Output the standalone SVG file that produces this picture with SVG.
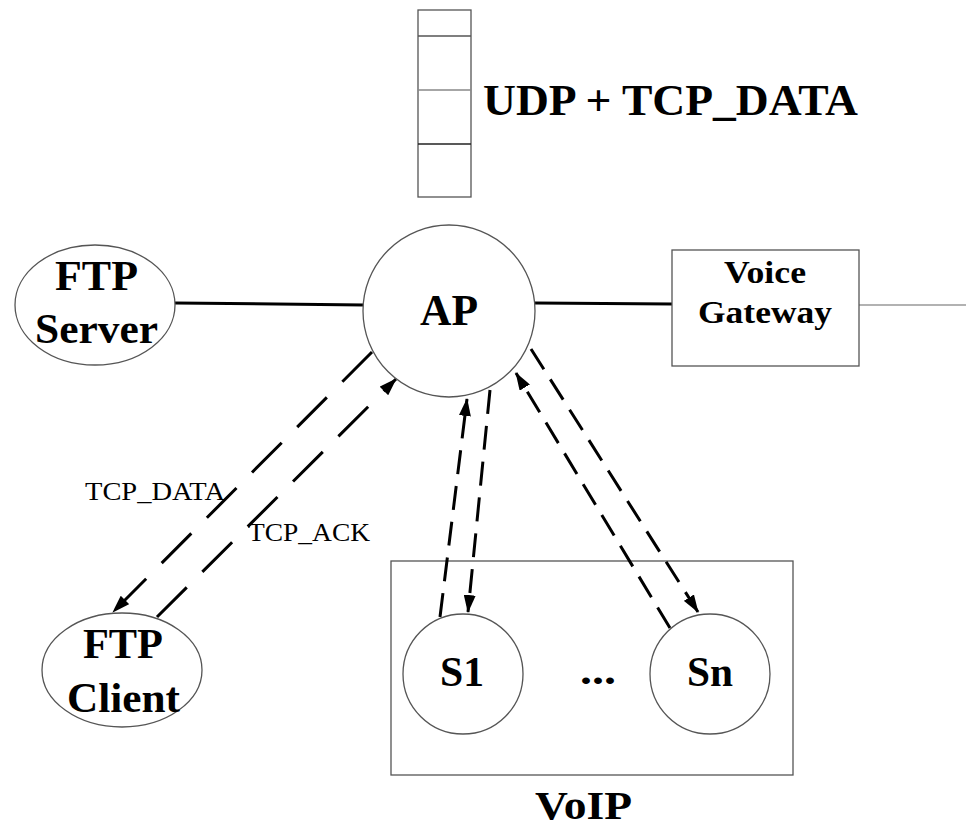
<svg xmlns="http://www.w3.org/2000/svg" width="966" height="828" viewBox="0 0 966 828">
<style>
.node{fill:#fff;stroke:#555;stroke-width:1.3}
.box{fill:none;stroke:#555;stroke-width:1.3}
.lbl{font-family:"Liberation Serif","Times New Roman",serif;font-weight:bold;fill:#000}
.small{font-family:"Liberation Serif","Times New Roman",serif;fill:#000}
.solid{stroke:#000;stroke-width:3;fill:none}
.dashL{stroke:#000;stroke-width:3;fill:none;stroke-dasharray:42 22}
.dashS{stroke:#000;stroke-width:3;fill:none;stroke-dasharray:24 12}
</style>
<defs>
<marker id="arr" markerWidth="18" markerHeight="12" refX="17" refY="6" orient="auto" markerUnits="userSpaceOnUse">
<path d="M0,0 L18,6 L0,12 Z" fill="#000"/>
</marker>
</defs>
<rect width="966" height="828" fill="#fff"/>
<g id="queue">
<rect x="418" y="10" width="53" height="187" class="node"/>
<line x1="418" y1="36" x2="471" y2="36" stroke="#555" stroke-width="1.3"/>
<line x1="418" y1="90" x2="471" y2="90" stroke="#888" stroke-width="1.3"/>
<line x1="418" y1="144" x2="471" y2="144" stroke="#222" stroke-width="1.3"/>
<text x="483" y="115" class="lbl" font-size="44" textLength="375" lengthAdjust="spacingAndGlyphs">UDP + TCP_DATA</text>
</g>
<g id="voip">
<rect x="391" y="561" width="402" height="214" class="box"/>
<text x="535" y="819" class="lbl" font-size="40" textLength="97" lengthAdjust="spacingAndGlyphs">VoIP</text>
<text x="580" y="684" class="lbl" font-size="40" textLength="36" lengthAdjust="spacingAndGlyphs">...</text>
</g>
<g id="connectors">
<line x1="175" y1="303" x2="364" y2="305" class="solid"/>
<line x1="535" y1="303" x2="672" y2="304" class="solid"/>
<line x1="859" y1="305" x2="966" y2="305" stroke="#999" stroke-width="1.5"/>
<line x1="372" y1="352" x2="113" y2="612" class="dashL" marker-end="url(#arr)"/>
<line x1="157" y1="617" x2="396" y2="379" class="dashL" marker-end="url(#arr)"/>
<line x1="440" y1="617" x2="467" y2="399" class="dashS" marker-end="url(#arr)"/>
<line x1="490" y1="390" x2="468" y2="612" class="dashS" marker-end="url(#arr)"/>
<line x1="670" y1="628" x2="516" y2="373" class="dashS" marker-end="url(#arr)"/>
<line x1="531" y1="349" x2="698" y2="612" class="dashS" marker-end="url(#arr)"/>
<text x="85" y="500" class="small" font-size="26" textLength="140" lengthAdjust="spacingAndGlyphs">TCP_DATA</text>
<text x="248" y="541" class="small" font-size="26" textLength="122" lengthAdjust="spacingAndGlyphs">TCP_ACK</text>
</g>
<g id="ap">
<circle cx="449" cy="311" r="86" class="node"/>
<text x="420" y="325" class="lbl" font-size="44" textLength="58" lengthAdjust="spacingAndGlyphs">AP</text>
</g>
<g id="ftp-server">
<ellipse cx="95" cy="305" rx="80" ry="60" class="node"/>
<text x="55" y="290" class="lbl" font-size="42" textLength="83" lengthAdjust="spacingAndGlyphs">FTP</text>
<text x="35" y="343" class="lbl" font-size="42" textLength="123" lengthAdjust="spacingAndGlyphs">Server</text>
</g>
<g id="voice-gateway">
<rect x="672" y="250" width="187" height="116" class="node"/>
<text x="724" y="283" class="lbl" font-size="31" textLength="82" lengthAdjust="spacingAndGlyphs">Voice</text>
<text x="698" y="323" class="lbl" font-size="31" textLength="134" lengthAdjust="spacingAndGlyphs">Gateway</text>
</g>
<g id="ftp-client">
<ellipse cx="122" cy="670" rx="80" ry="57" class="node"/>
<text x="83" y="658" class="lbl" font-size="42" textLength="80" lengthAdjust="spacingAndGlyphs">FTP</text>
<text x="67" y="712" class="lbl" font-size="42" textLength="113" lengthAdjust="spacingAndGlyphs">Client</text>
</g>
<g id="s1">
<circle cx="463" cy="674" r="60" class="node"/>
<text x="440" y="686" class="lbl" font-size="42" textLength="44" lengthAdjust="spacingAndGlyphs">S1</text>
</g>
<g id="sn">
<circle cx="710" cy="674" r="60" class="node"/>
<text x="687" y="686" class="lbl" font-size="42" textLength="46" lengthAdjust="spacingAndGlyphs">Sn</text>
</g>
</svg>
